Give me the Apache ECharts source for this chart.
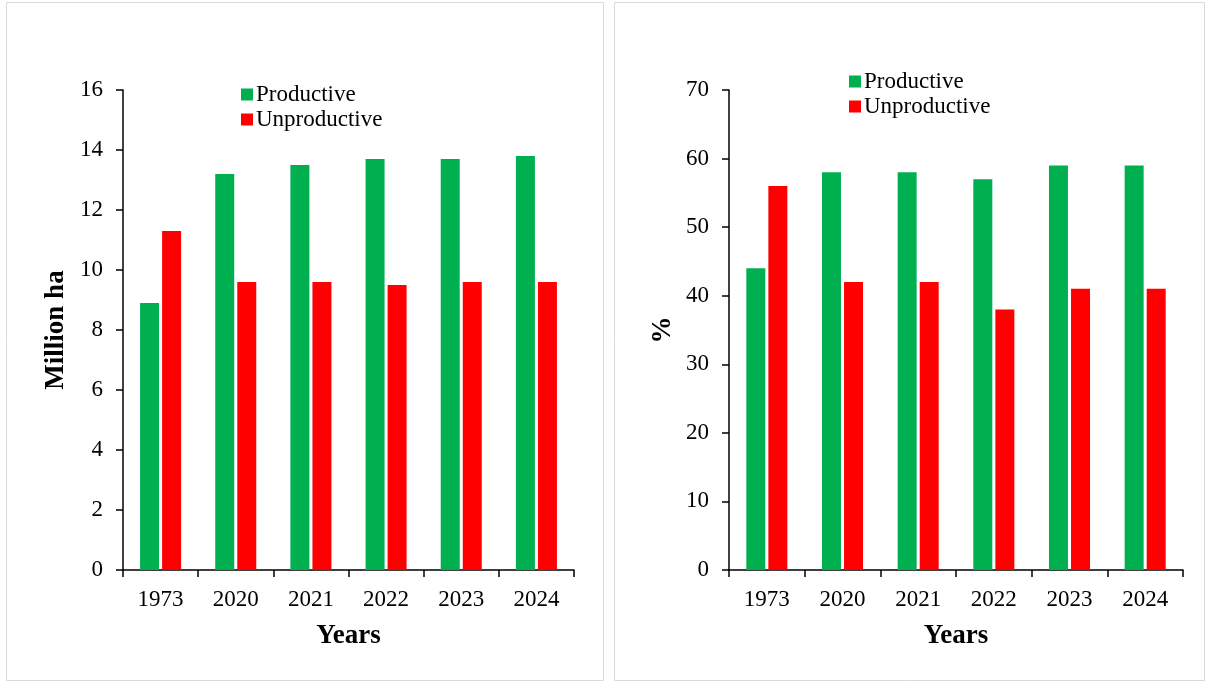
<!DOCTYPE html>
<html>
<head>
<meta charset="utf-8">
<script src="https://cdn.jsdelivr.net/npm/echarts@6/dist/echarts.min.js"></script>
<style>
html,body{margin:0;padding:0;background:#fff;}
#c{width:1208px;height:684px;}
</style>
</head>
<body>
<div id="c"></div>
<script>
const years = ['1973','2020','2021','2022','2023','2024'];
const productiveHa = [8.9, 13.2, 13.5, 13.7, 13.7, 13.8];
const unproductiveHa = [11.3, 9.6, 9.6, 9.5, 9.6, 9.6];
const productivePct = [44, 58, 58, 57, 59, 59];
const unproductivePct = [56, 42, 42, 38, 41, 41];
const seriesNames = ['Productive', 'Unproductive'];
const colors = ['#00B050', '#FF0000'];

const FONT = "'Liberation Serif', 'Times New Roman', serif";
const chart = echarts.init(document.getElementById('c'), null, {renderer:'canvas'});

function xAxisFor(gi){
  return {
    type:'category', gridIndex:gi, data:years,
    name:'Years', nameLocation:'middle', nameGap:53,
    nameTextStyle:{fontFamily:FONT, fontSize:27, fontWeight:'bold', color:'#000'},
    axisLine:{lineStyle:{color:'#000', width:1.5}},
    axisTick:{show:true, length:7, lineStyle:{color:'#000', width:1.5}, alignWithLabel:false},
    axisLabel:{fontFamily:FONT, fontSize:23, color:'#000', margin:18}
  };
}
function yAxisFor(gi, max, interval, name, gap){
  return {
    type:'value', gridIndex:gi, min:0, max:max, interval:interval,
    name:name, nameLocation:'middle', nameGap:gap,
    nameTextStyle:{fontFamily:FONT, fontSize:27, fontWeight:'bold', color:'#000'},
    axisLine:{show:true, lineStyle:{color:'#000', width:1.5}},
    axisTick:{show:true, length:7, lineStyle:{color:'#000', width:1.5}},
    axisLabel:{fontFamily:FONT, fontSize:23, color:'#000', margin:20},
    splitLine:{show:false}
  };
}
function bar(name, data, color, xi){
  return {
    type:'bar', name:name, data:data, xAxisIndex:xi, yAxisIndex:xi,
    barWidth:19, barGap:'16%',
    itemStyle:{color:color},
    emphasis:{disabled:true}
  };
}
function legendFor(left, top){
  return {
    left:left, top:top, orient:'vertical', itemWidth:12, itemHeight:12, itemGap:2,
    icon:'rect', data:seriesNames,
    textStyle:{fontFamily:FONT, fontSize:23, color:'#000', padding:[0,0,0,-2]}
  };
}

chart.setOption({
  animation:false,
  color:colors,
  graphic:[
    {type:'rect', shape:{x:6.5, y:2.5, width:597, height:678}, style:{fill:'none', stroke:'#d9d9d9', lineWidth:1}},
    {type:'rect', shape:{x:614.5, y:2.5, width:590, height:678}, style:{fill:'none', stroke:'#d9d9d9', lineWidth:1}}
  ],
  legend:[legendFor(236, 78), legendFor(844, 65)],
  grid:[
    {left:123, right:634, top:90, bottom:114},
    {left:729, right:25, top:90, bottom:114}
  ],
  xAxis:[xAxisFor(0), xAxisFor(1)],
  yAxis:[yAxisFor(0, 16, 2, 'Million ha', 53), yAxisFor(1, 70, 10, '%', 52)],
  series:[
    bar(seriesNames[0], productiveHa, colors[0], 0),
    bar(seriesNames[1], unproductiveHa, colors[1], 0),
    bar(seriesNames[0], productivePct, colors[0], 1),
    bar(seriesNames[1], unproductivePct, colors[1], 1)
  ]
});
</script>
</body>
</html>
